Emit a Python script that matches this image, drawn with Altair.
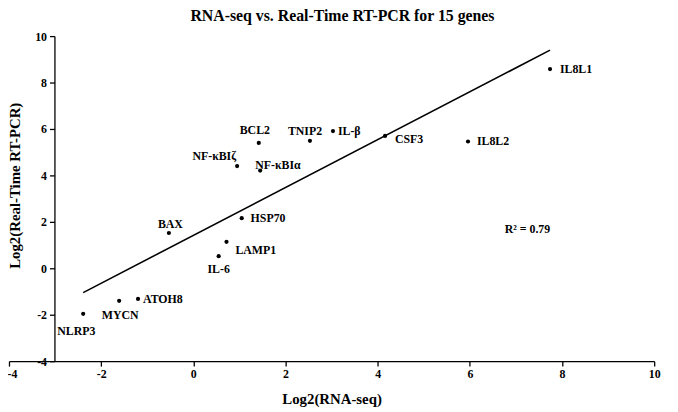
import altair as alt
import pandas as pd

# ---- data ----
genes = ["NLRP3", "MYCN", "ATOH8", "BAX", "IL-6", "LAMP1", "HSP70",
         "NF-κBIζ", "NF-κBIα", "BCL2", "TNIP2", "IL-β", "CSF3", "IL8L2", "IL8L1"]
rna_seq = [-2.39, -1.61, -1.20, -0.53, 0.55, 0.72, 1.05,
           0.95, 1.45, 1.42, 2.53, 3.03, 4.16, 5.96, 7.74]
rt_pcr = [-1.96, -1.40, -1.32, 1.52, 0.52, 1.14, 2.16,
          4.40, 4.21, 5.40, 5.49, 5.91, 5.70, 5.46, 8.58]
x_ticks = [-4, -2, 0, 2, 4, 6, 8, 10]
y_ticks = [-4, -2, 0, 2, 4, 6, 8, 10]
r2_label = "R² = 0.79"

df = pd.DataFrame({"gene": genes, "rna": rna_seq, "pcr": rt_pcr})
r2_df = pd.DataFrame({"rna": [7.25], "pcr": [1.7], "txt": [r2_label]})

# label placement for each gene: (align, dx, dy)
placement = {
    "NLRP3": ("center", -7, 17), "MYCN": ("center", 1, 14), "ATOH8": ("left", 5, 0),
    "BAX": ("center", 1.5, -9), "IL-6": ("center", 0, 13), "LAMP1": ("left", 9, 8),
    "HSP70": ("left", 9, 0), "NF-κBIζ": ("right", -1, -10), "NF-κBIα": ("left", -5, -6),
    "BCL2": ("center", -4, -13), "TNIP2": ("center", -5, -10), "IL-β": ("left", 5, 0),
    "CSF3": ("left", 10, 3), "IL8L2": ("left", 9, 0), "IL8L1": ("left", 10, 0),
}

FONT = "Liberation Serif"
xs = alt.Scale(domain=[-4, 10], nice=False, zero=False)
ys = alt.Scale(domain=[-4, 10], nice=False, zero=False)

x_axis = alt.Axis(
    values=x_ticks, title="Log2(RNA-seq)", grid=False, domainColor="black", domainWidth=1.3,
    tickColor="black", tickWidth=1.3, tickSize=5, labelFont=FONT, labelFontSize=12,
    labelFontWeight="bold", labelColor="black", labelFlush=False, labelOverlap=False,
    labelPadding=3, labelExpr="datum.value + ''",
    labelOffset={"condition": {"test": "datum.value == -4", "value": 3}, "value": 0},
    titleFont=FONT, titleFontSize=15, titleFontWeight="bold", titleColor="black",
    titlePadding=12,
)
y_axis = alt.Axis(
    values=y_ticks, title="Log2(Real-Time RT-PCR)", grid=False, offset=-46,
    domainColor="black", domainWidth=1.3, tickColor="black", tickWidth=1.3, tickSize=5,
    labelFont=FONT, labelFontSize=12, labelFontWeight="bold", labelColor="black",
    labelPadding=3, labelOverlap=False, labelExpr="datum.value + ''",
    titleFont=FONT, titleFontSize=15, titleFontWeight="bold", titleColor="black",
    titleX=-40, titleY=151, titleAlign="center", titleBaseline="middle", titleAngle=-90,
)

base = alt.Chart(df)
points = base.mark_circle(color="black", size=18, opacity=1).encode(
    x=alt.X("rna:Q", scale=xs, axis=x_axis),
    y=alt.Y("pcr:Q", scale=ys, axis=y_axis),
)
trend = base.transform_regression("rna", "pcr").mark_line(
    color="black", strokeWidth=1.6
).encode(x=alt.X("rna:Q", scale=xs), y=alt.Y("pcr:Q", scale=ys))

label_layers = []
for g in genes:
    al, dx, dy = placement[g]
    label_layers.append(
        base.transform_filter(alt.datum.gene == g).mark_text(
            font=FONT, fontSize=12, fontWeight="bold", color="black",
            align=al, baseline="middle", dx=dx, dy=dy,
        ).encode(x=alt.X("rna:Q", scale=xs), y=alt.Y("pcr:Q", scale=ys), text="gene:N")
    )

r2_text = alt.Chart(r2_df).mark_text(
    font=FONT, fontSize=12, fontWeight="bold", color="black", align="center", baseline="middle"
).encode(x=alt.X("rna:Q", scale=xs), y=alt.Y("pcr:Q", scale=ys), text="txt:N")

chart = alt.layer(trend, points, *label_layers, r2_text).properties(
    width=653, height=329, background="white",
    title=alt.TitleParams(
        "RNA-seq vs. Real-Time RT-PCR for 15 genes", font=FONT, fontSize=16,
        fontWeight="bold", color="black", anchor="middle", dx=11, offset=6,
    ),
    autosize=alt.AutoSizeParams(type="none"),
    padding={"left": 1, "top": 26, "right": 16, "bottom": 48},
).configure_view(strokeWidth=0)

chart.save("out.html", embed_options={"renderer": "svg", "actions": False})
